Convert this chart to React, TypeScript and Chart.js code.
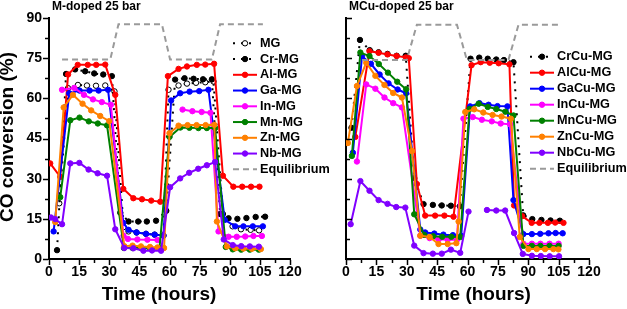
import React, { useEffect, useRef } from 'react';
import { Chart, registerables } from 'chart.js';

Chart.register(...registerables);

const FONT = "'Liberation Sans', Arial, Helvetica, sans-serif";
Chart.defaults.font.family = FONT;

// ---------- Left panel: M-doped 25 bar ----------
const tMG = [5.1, 9.5, 14.4, 18.9, 23.4, 28, 32.6, 37.1, 39.6, 43.6, 48.3, 52.6, 57, 59.5, 64.5, 68.7, 73.2, 77.8, 81.9, 86.6, 91.4, 95.6, 100.4, 104.6];
const vMG = [20.8, 63.8, 65, 64.8, 64.7, 64.8, 62.6, 11.9, 10.3, 9.9, 9.4, 9.1, 8.8, 63.2, 64.8, 65.5, 65.8, 66, 66.3, 16.8, 12.2, 11.1, 10.9, 10.7];

const tCr = [4, 8.5, 13, 18, 22.5, 27, 31.3, 35.5, 39.6, 44.4, 48.7, 53.3, 58.4, 62.8, 67.5, 72, 76.7, 81.1, 85.2, 89.4, 93.8, 98.3, 102.9, 107.6];
const vCr = [3.3, 69.1, 70.8, 70.1, 69.3, 68.9, 68.3, 17.3, 14, 14, 14, 14.3, 18, 67, 67.5, 67.3, 67.1, 67.1, 16.8, 15.2, 15, 15.3, 15.7, 15.8];

const tAl = [0.6, 5.6, 9.5, 14.3, 19.3, 23.5, 28, 33, 37, 42, 46.3, 50.9, 55.4, 59.2, 64.5, 68.7, 73.6, 77.8, 82.2, 86.6, 91.8, 96.2, 100.6, 104.8];
const vAl = [35.7, 30.7, 68.9, 72.5, 72.5, 72.5, 72.6, 61.3, 26.2, 22.7, 22.3, 21.8, 21.4, 68.3, 71, 71.9, 72.5, 72.6, 72.9, 31.1, 27, 27, 27, 27];

const tGa = [2.3, 10.1, 15.2, 20.2, 24.7, 29.4, 37, 39.6, 43.6, 48.3, 52.6, 57, 60.8, 65.3, 70, 74.8, 79.4, 87.5, 92.7, 96.8, 101.5, 106.5];
const vGa = [10.3, 61.9, 62.9, 62.9, 62.9, 63.2, 13.5, 10.9, 9.9, 9.4, 9.1, 8.7, 59.2, 61.9, 62.5, 62.7, 63.2, 14.6, 12.2, 12.2, 12.2, 12.2];

const tIn = [6.5, 12.6, 17.4, 21.9, 26.3, 30.8, 37.1, 39.3, 44, 49, 54, 58, 66.5, 71.4, 76, 80.4, 84.4, 89.4, 93.5, 97.7, 101.8, 106];
const vIn = [63.2, 63.9, 61.3, 59.6, 58.6, 57.6, 8.7, 7.5, 7.3, 7.2, 7.1, null, 55.8, 55.2, 54.9, 54.6, 10.3, 8.3, 8.3, 8.4, 8.6, 8.6];

const tMn = [5.6, 10.6, 15.2, 19.8, 24.3, 28.9, 37.3, 41.6, 45.8, 50.3, 55, 60, 65.4, 69.9, 74.4, 78.6, 82.7, 88, 91.5, 95.7, 100, 104.5];
const vMn = [23.1, 51.8, 52.8, 51.4, 50.6, 49.9, 4.1, 4.1, 4.1, 4, 4, 45.6, 49.1, 49, 48.9, 48.9, 48.9, 4.5, 3.6, 3.5, 3.5, 3.5];

const tZn = [3.1, 7.3, 11.9, 16.7, 21, 25.5, 30, 37.5, 41.6, 45.8, 50.3, 54, 57.3, 60, 64.5, 69, 73.5, 78, 82.3, 83.6, 88.6, 92.7, 96.8, 101, 105.5];
const vZn = [13.8, 56.6, 61.3, 58, 55.5, 53.4, 51.5, 4.8, 5, 4.7, 4.5, 4.3, 4.1, 47, 49.8, 50, 50, 50, 50.1, 14, 4.7, 4, 3.9, 3.8, 3.7];

const tNb = [1, 3.1, 6.5, 10.6, 15.1, 19.7, 24.2, 28.9, 33, 37.5, 42, 47, 51.3, 55.8, 60.3, 65.3, 69.8, 74.3, 78.6, 82.7, 87, 91.5, 95.7, 100, 104.5];
const vNb = [15.5, 14.9, 13, 35.7, 35.9, 33.4, 32, 31.1, 11.1, 4.1, 4, 3.1, 3.2, 3.1, 26.8, 30.1, 32.2, 33.7, 35, 36.2, 7.3, 5.2, 4.8, 4.7, 4.6];

const tEqL = [6.5, 30.5, 34.6, 56.2, 60.3, 81.1, 85.2, 106.5];
const vEqL = [74.5, 74.5, 87.7, 87.7, 74.5, 74.5, 87.7, 87.7];

// ---------- Right panel: MCu-doped 25 bar ----------
const tCrCu = [2.7, 6.9, 11.7, 16.1, 20.5, 25, 29.5, 33.7, 38.3, 42.9, 47.3, 51.8, 56.2, 61.5, 65.8, 70, 74.2, 78, 82.7, 87.5, 92, 96.5, 101, 105.6];
const vCrCu = [49, 81.8, 78, 77.2, 76.6, 75.9, 75.9, 30.2, 20.5, 20.2, 20, 19.9, 19.7, 74.8, 75.2, 74.8, 74.5, 74.3, 73.5, 16.3, 14.9, 14.6, 14.4, 14.3];

const tAlCu = [4.6, 11.6, 16.1, 20.5, 25, 29.5, 31, 35, 39.1, 44, 48.6, 53.1, 62, 66.5, 71, 75.4, 80.7, 83, 87, 91.7, 95.5, 99.7, 103.3, 107.4];
const vAlCu = [45.6, 77.6, 77, 76.4, 75.8, 75.3, 75, 28, 16.2, 16.2, 16.2, 15.8, 72.4, 73.5, 73.3, 73.1, 72.7, 20, 16, 13.5, 13.5, 13.5, 13.6, 13.5];

const tGaCu = [3.4, 7.9, 12.3, 16.6, 21, 25.5, 29.7, 36.7, 39.1, 43.6, 48.1, 52.8, 56.9, 61.3, 65.9, 70.4, 74.8, 79.7, 82.7, 87.6, 91.8, 95.9, 100, 103.5, 107];
const vGaCu = [39.7, 75.7, 72.9, 68.9, 65.6, 63.3, 61.9, 11, 9.9, 9.5, 9.1, 8.9, 8.6, 57, 58.2, 57.6, 57.1, 57, 22, 9.3, 9.3, 9.4, 9.6, 9.7, 9.6];

const tInCu = [5.4, 10, 14.5, 19, 23.3, 27.6, 36.7, 41.3, 45.8, 50.2, 54.8, 58, 62.6, 67.1, 72, 76.4, 81, 87.6, 91.8, 96, 100.5, 105];
const vInCu = [36.4, 65.2, 63.6, 60.3, 58.2, 56.6, 8.7, 7.8, 7.4, 7.2, 7.2, 52.4, 53, 52, 51.4, 50.6, 50.3, 5.7, 5.7, 5.7, 5.7, 5.7];

const tMnCu = [2.9, 7.1, 11.6, 16.2, 20.7, 25.3, 29.7, 33.7, 38.6, 43, 47.5, 52, 56.4, 61, 65.5, 70, 74.2, 78.7, 82.7, 87.6, 91.8, 96, 100.5, 105];
const vMnCu = [38.5, 77.1, 75.8, 72.8, 69.6, 66.2, 63.4, 16.7, 9, 8.5, 8.3, 8.3, 8.2, 56, 58, 56.8, 56, 55, 53.6, 4.9, 4.9, 4.9, 4.9, 4.9];

const tZnCu = [0.9, 5.4, 10, 14.5, 19, 23.3, 27.6, 32.6, 36.7, 41.3, 45.7, 50.2, 54.5, 55.6, 58.9, 63.3, 67.8, 72.4, 76.8, 81.4, 85.8, 90.1, 94.2, 98.3, 102.4, 104.9];
const vZnCu = [43.3, 64.6, 73.3, 68.4, 65, 62, 60.3, 40.3, 8.7, 8.2, 5.6, 5.6, 5.9, 14, 54.9, 55.9, 54.7, 53.8, 53.2, 52.4, 8.2, 3.7, 3.7, 3.7, 3.7, 3.6];

const tNbCu = [2.3, 7.1, 11.6, 16.1, 20.5, 24.8, 29.3, 33.7, 38.3, 42.9, 47.3, 51.8, 56.4, 60.5, 65, 69.6, 74.2, 78.6, 83, 87.3, 91.8, 96.2, 100.6, 105.2];
const vNbCu = [13, 29.1, 25.5, 22, 20.6, 19.4, 19.2, 5, 2.2, 2, 2, 3.5, 2.3, 17.7, null, 18.3, 18.1, 18.1, 9.7, 1.9, 1.2, 1.1, 1, 1];

const tEqR = [7.9, 30, 35, 54.8, 59.7, 80.2, 85.2, 104.9];
const vEqR = [74.3, 74.3, 87.5, 87.5, 74.3, 74.3, 87.5, 87.5];

// axis ticks
const xMax = 120;
const yMax = 90;
const majorStep = 15;
const minorStep = 7.5;

const RED = '#ff0000';
const BLUE = '#0000ff';
const MAGENTA = '#ff00ff';
const GREEN = '#008000';
const ORANGE = '#ff8000';
const PURPLE = '#8000ff';
const GRAY = '#9a9a9a';

const POINT_R = 2.7;

type Series = {
  label: string;
  t: number[];
  v: (number | null)[];
  color: string;
  fill?: string;
  kind?: 'dotted' | 'dashed';
  noPoints?: boolean;
};

const leftSeries: Series[] = [
  { label: 'MG', t: tMG, v: vMG, color: '#000', fill: '#fff', kind: 'dotted' },
  { label: 'Cr-MG', t: tCr, v: vCr, color: '#000', kind: 'dotted' },
  { label: 'Al-MG', t: tAl, v: vAl, color: RED },
  { label: 'Ga-MG', t: tGa, v: vGa, color: BLUE },
  { label: 'In-MG', t: tIn, v: vIn, color: MAGENTA },
  { label: 'Mn-MG', t: tMn, v: vMn, color: GREEN },
  { label: 'Zn-MG', t: tZn, v: vZn, color: ORANGE },
  { label: 'Nb-MG', t: tNb, v: vNb, color: PURPLE },
  { label: 'Equilibrium', t: tEqL, v: vEqL, color: GRAY, kind: 'dashed', noPoints: true },
];

const rightSeries: Series[] = [
  { label: 'CrCu-MG', t: tCrCu, v: vCrCu, color: '#000', kind: 'dotted' },
  { label: 'AlCu-MG', t: tAlCu, v: vAlCu, color: RED },
  { label: 'GaCu-MG', t: tGaCu, v: vGaCu, color: BLUE },
  { label: 'InCu-MG', t: tInCu, v: vInCu, color: MAGENTA },
  { label: 'MnCu-MG', t: tMnCu, v: vMnCu, color: GREEN },
  { label: 'ZnCu-MG', t: tZnCu, v: vZnCu, color: ORANGE },
  { label: 'NbCu-MG', t: tNbCu, v: vNbCu, color: PURPLE },
  { label: 'Equilibrium', t: tEqR, v: vEqR, color: GRAY, kind: 'dashed', noPoints: true },
];

type PanelCfg = {
  series: Series[];
  title: string;
  titleX: number;
  axisLeft: number;
  padRight: number;
  yLabels: boolean;
  yTicksIn: boolean;
  yTitle?: string;
  xTitleX: number;
  legendX: number;
  legendY: number;
  legendDy: number;
};

const dashFor = (s: Series) => (s.kind === 'dotted' ? [2, 6] : s.kind === 'dashed' ? [6, 4] : []);

const decor = (cfg: PanelCfg) => ({
  id: 'decor',
  afterDraw(chart: any) {
    const { ctx, chartArea: a } = chart;
    const xs = chart.scales.x;
    const ys = chart.scales.y;
    ctx.save();
    ctx.strokeStyle = '#000';
    ctx.lineWidth = 1.5;
    ctx.setLineDash([]);
    for (let v = 0; v <= xMax + 1e-6; v += minorStep) {
      const px = Math.round(xs.getPixelForValue(v)) + 0.5;
      const len = Math.abs(v % majorStep) < 1e-6 ? 5 : 3;
      ctx.beginPath();
      ctx.moveTo(px, a.bottom + 1);
      ctx.lineTo(px, a.bottom + 1 + len);
      ctx.stroke();
    }
    for (let v = 0; v <= yMax + 1e-6; v += minorStep) {
      const py = Math.round(ys.getPixelForValue(v)) + 0.5;
      const major = Math.abs(v % majorStep) < 1e-6;
      const len = major ? 5 : 3;
      ctx.beginPath();
      if (cfg.yTicksIn) {
        ctx.moveTo(a.left + 1, py);
        ctx.lineTo(a.left + 1 + len, py);
      } else {
        ctx.moveTo(a.left - 1, py);
        ctx.lineTo(a.left - 1 - len, py);
      }
      ctx.stroke();
    }
    // titles
    ctx.fillStyle = '#000';
    ctx.textBaseline = 'middle';
    ctx.textAlign = 'left';
    ctx.font = `bold 12px ${FONT}`;
    ctx.fillText(cfg.title, cfg.titleX, 7);
    ctx.font = `bold 19px ${FONT}`;
    ctx.textAlign = 'center';
    ctx.fillText('Time (hours)', cfg.xTitleX, 295);
    if (cfg.yTitle) {
      ctx.save();
      ctx.translate(8, 137);
      ctx.rotate(-Math.PI / 2);
      ctx.fillText(cfg.yTitle, 0, 0);
      ctx.restore();
    }
    // legend
    cfg.series.forEach((s, i) => {
      const lx = cfg.legendX;
      const ly = cfg.legendY + i * cfg.legendDy;
      ctx.save();
      ctx.strokeStyle = s.color;
      ctx.lineWidth = 2;
      ctx.setLineDash(dashFor(s));
      ctx.beginPath();
      ctx.moveTo(lx, ly);
      ctx.lineTo(lx + 24, ly);
      ctx.stroke();
      ctx.setLineDash([]);
      if (!s.noPoints) {
        ctx.beginPath();
        ctx.arc(lx + 12, ly, POINT_R, 0, Math.PI * 2);
        ctx.fillStyle = s.fill ?? s.color;
        ctx.fill();
        ctx.lineWidth = 1;
        ctx.strokeStyle = s.color;
        ctx.stroke();
      }
      ctx.fillStyle = '#000';
      ctx.font = `bold 12.7px ${FONT}`;
      ctx.textAlign = 'left';
      ctx.textBaseline = 'middle';
      ctx.fillText(s.label, lx + 27, ly);
      ctx.restore();
    });
    ctx.restore();
  },
});

function Panel({ cfg }: { cfg: PanelCfg }) {
  const ref = useRef<HTMLCanvasElement>(null);
  useEffect(() => {
    if (!ref.current) return;
    const n = cfg.series.length;
    const datasets = cfg.series.map((s, i) => ({
      label: s.label,
      data: s.t.map((x, j) => ({ x, y: s.v[j] })),
      borderColor: s.color,
      backgroundColor: s.fill ?? s.color,
      pointBackgroundColor: s.fill ?? s.color,
      pointBorderColor: s.color,
      pointRadius: s.noPoints ? 0 : POINT_R,
      pointBorderWidth: 1,
      borderWidth: 2,
      borderDash: dashFor(s),
      spanGaps: false,
      tension: 0,
      order: n - i,
    }));
    const tickFont = { size: 14, weight: 'bold' as const, family: FONT };
    const chart = new Chart(ref.current, {
      type: 'line',
      data: { datasets },
      options: {
        animation: false,
        responsive: false,
        devicePixelRatio: 1,
        layout: { padding: { top: 18, right: cfg.padRight, bottom: 0, left: 0 } },
        plugins: { legend: { display: false }, tooltip: { enabled: false } },
        scales: {
          x: {
            type: 'linear',
            min: 0,
            max: xMax,
            ticks: { stepSize: majorStep, font: tickFont, color: '#000', padding: 5, maxRotation: 0, autoSkip: false },
            grid: { display: false, drawTicks: false },
            border: { display: true, color: '#000', width: 2 },
            afterFit: (s: any) => { s.height = 50; },
          },
          y: {
            type: 'linear',
            min: 0,
            max: yMax,
            ticks: { stepSize: majorStep, font: tickFont, color: '#000', padding: 7, display: cfg.yLabels },
            grid: { display: false, drawTicks: false },
            border: { display: true, color: '#000', width: 2 },
            afterFit: (s: any) => { s.width = cfg.axisLeft; },
          },
        },
      },
      plugins: [decor(cfg)],
    } as any);
    return () => chart.destroy();
  }, [cfg]);
  return (
    <canvas
      ref={ref}
      width={627}
      height={309}
      style={{ position: 'absolute', left: 0, top: 0, width: 627, height: 309 }}
    />
  );
}

const leftCfg: PanelCfg = {
  series: leftSeries,
  title: 'M-doped 25 bar',
  titleX: 52,
  axisLeft: 49,
  padRight: 337,
  yLabels: true,
  yTicksIn: false,
  yTitle: 'CO conversion (%)',
  xTitleX: 159,
  legendX: 233,
  legendY: 43.3,
  legendDy: 15.75,
};

const rightCfg: PanelCfg = {
  series: rightSeries,
  title: 'MCu-doped 25 bar',
  titleX: 349,
  axisLeft: 346,
  padRight: 38,
  yLabels: false,
  yTicksIn: true,
  xTitleX: 473.5,
  legendX: 530,
  legendY: 56.7,
  legendDy: 16,
};

export default function App() {
  return (
    <div style={{ position: 'absolute', left: 0, top: 0, width: 627, height: 309, background: '#fff' }}>
      <Panel cfg={leftCfg} />
      <Panel cfg={rightCfg} />
    </div>
  );
}
